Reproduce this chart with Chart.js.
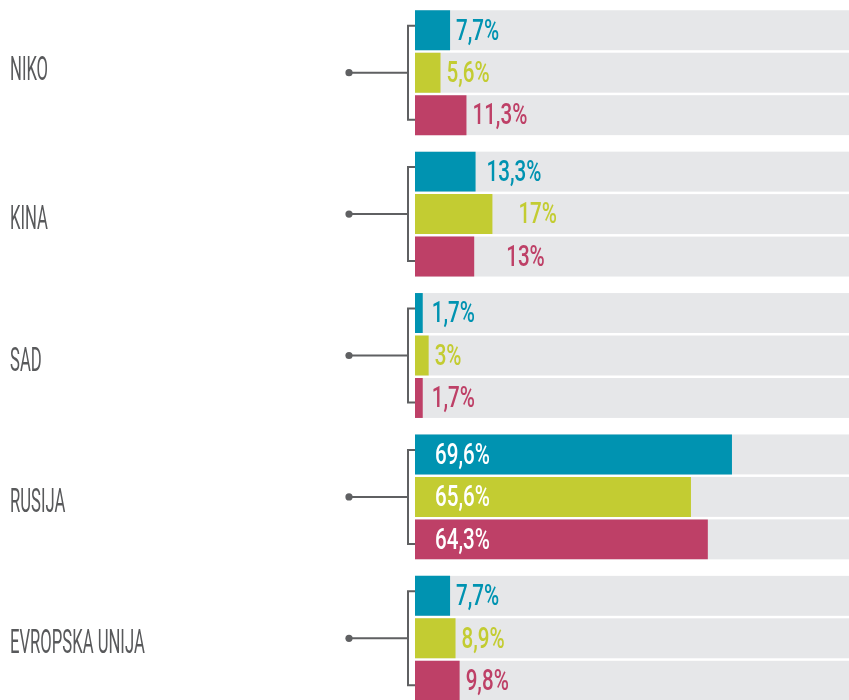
<!DOCTYPE html>
<html>
<head>
<meta charset="utf-8">
<script src="https://cdn.jsdelivr.net/npm/chart.js@4/dist/chart.umd.min.js"></script>
<style>
  html, body { margin: 0; padding: 0; background: #ffffff; overflow: hidden; }
  #wrap { width: 849px; height: 700px; overflow: hidden; }
</style>
</head>
<body>
<div id="wrap"><canvas id="c" width="849" height="710"></canvas></div>
<script>
// ---- data ----
const categories = ['NIKO', 'KINA', 'SAD', 'RUSIJA', 'EVROPSKA UNIJA'];
const seriesBlue  = [7.7, 13.3, 1.7, 69.6, 7.7];
const seriesGreen = [5.6, 17, 3, 60.6, 8.9];
const seriesPink  = [11.3, 13, 1.7, 64.3, 9.8];
const labelsBlue  = ['7,7%', '13,3%', '1,7%', '69,6%', '7,7%'];
const labelsGreen = ['5,6%', '17%', '3%', '65,6%', '8,9%'];
const labelsPink  = ['11,3%', '13%', '1,7%', '64,3%', '9,8%'];
const axisMax = 95.3;

const colors = ['#0093b1', '#c3cc32', '#be4067'];
const valueLabels = [labelsBlue, labelsGreen, labelsPink];

// extra horizontal nudges for a few value labels (dataset index -> category index -> px)
const labelNudge = { 0: { 1: 5, 2: 3 }, 1: { 1: 20 }, 2: { 1: 26, 2: 3 } };
// vertical nudge of category labels
const catNudge = [-5, 3, 3, 3, 3];

const overlayPlugin = {
  id: 'overlay',
  beforeDatasetsDraw(chart) {
    const ctx = chart.ctx;
    const area = chart.chartArea;
    ctx.save();
    ctx.fillStyle = '#e6e7e9';
    chart.data.datasets.forEach((ds, di) => {
      const meta = chart.getDatasetMeta(di);
      meta.data.forEach(el => {
        const p = el.getProps(['y', 'height'], true);
        ctx.fillRect(area.left, p.y - p.height / 2, area.right - area.left, p.height);
      });
    });
    ctx.restore();
  },
  afterDatasetsDraw(chart) {
    const ctx = chart.ctx;
    const yScale = chart.scales.y;
    ctx.save();
    // value labels
    const vSize = 29, vCap = vSize * 0.711, vSx = 0.71;
    ctx.font = '500 ' + vSize + 'px Roboto';
    ctx.textAlign = 'left';
    ctx.textBaseline = 'alphabetic';
    chart.data.datasets.forEach((ds, di) => {
      const meta = chart.getDatasetMeta(di);
      meta.data.forEach((el, i) => {
        const p = el.getProps(['x', 'y', 'base', 'height'], true);
        const v = ds.data[i];
        const txt = valueLabels[di][i];
        let x, col;
        if (v > 30) { x = p.base + 20; col = '#ffffff'; }
        else {
          x = p.x + 6 + ((labelNudge[di] && labelNudge[di][i]) || 0);
          col = colors[di];
        }
        ctx.fillStyle = col;
        ctx.save();
        ctx.translate(x, p.y + vCap / 2 - 1);
        ctx.scale(vSx, 1);
        ctx.fillText(txt, 0, 0);
        ctx.restore();
      });
    });
    // category labels + brackets
    const cSize = 34, cCap = cSize * 0.711, cSx = 0.49;
    categories.forEach((cat, i) => {
      const c = yScale.getPixelForValue(i);
      ctx.fillStyle = '#58595b';
      ctx.font = '400 ' + cSize + 'px Roboto';
      ctx.save();
      ctx.translate(10, c + catNudge[i] + cCap / 2);
      ctx.scale(cSx, 1);
      ctx.fillText(cat, 0, 0);
      ctx.restore();

      ctx.strokeStyle = '#5f6062';
      ctx.lineWidth = 2;
      ctx.beginPath();
      ctx.moveTo(349, c); ctx.lineTo(408, c);
      ctx.moveTo(415, c - 47); ctx.lineTo(408, c - 47); ctx.lineTo(408, c + 47); ctx.lineTo(415, c + 47);
      ctx.stroke();
      ctx.fillStyle = '#5f6062';
      ctx.beginPath();
      ctx.arc(349, c, 3.6, 0, Math.PI * 2);
      ctx.fill();
    });
    ctx.restore();
  }
};

new Chart(document.getElementById('c'), {
  type: 'bar',
  data: {
    labels: categories,
    datasets: [
      { data: seriesBlue, backgroundColor: colors[0] },
      { data: seriesGreen, backgroundColor: colors[1] },
      { data: seriesPink, backgroundColor: colors[2] }
    ]
  },
  options: {
    indexAxis: 'y',
    responsive: false,
    animation: false,
    devicePixelRatio: 1,
    layout: { padding: { left: 415, right: 0, top: 2, bottom: 1 } },
    datasets: { bar: { categoryPercentage: 0.901, barPercentage: 0.941, borderWidth: 0 } },
    scales: {
      x: { display: false, min: 0, max: axisMax },
      y: { display: false }
    },
    plugins: { legend: { display: false }, tooltip: { enabled: false } }
  },
  plugins: [overlayPlugin]
});
</script>
</body>
</html>
